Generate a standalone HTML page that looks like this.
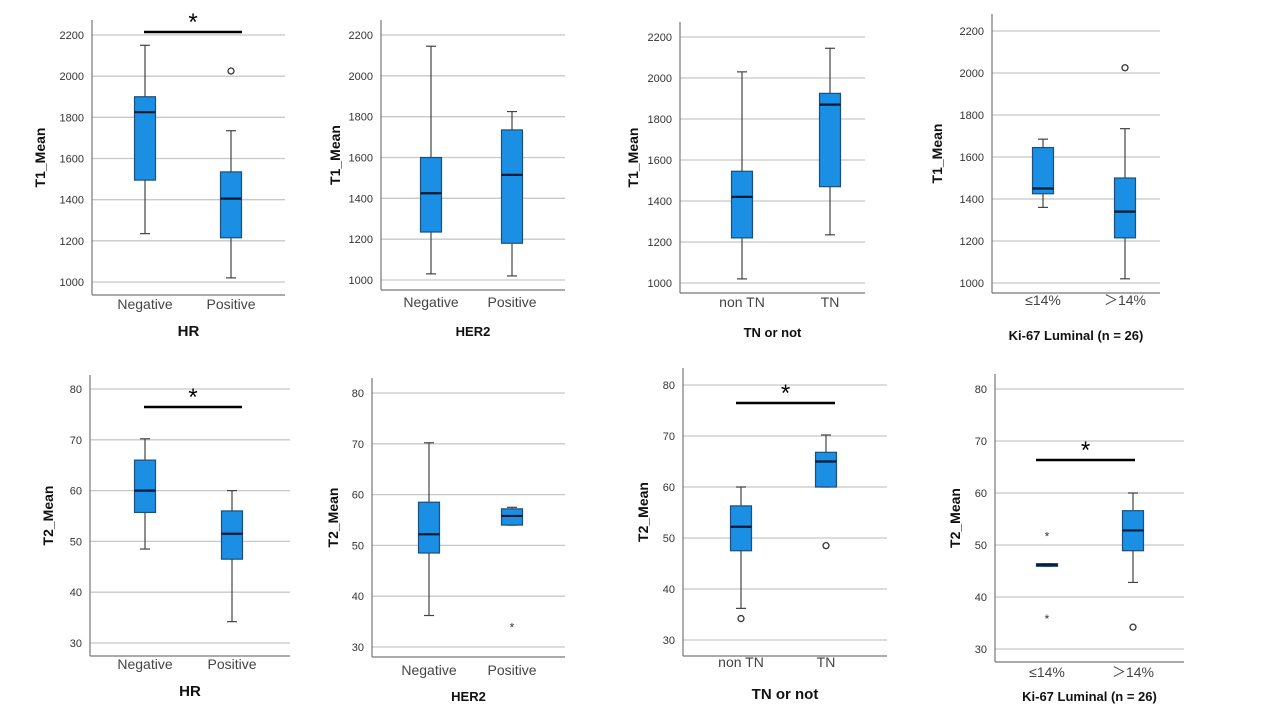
<!DOCTYPE html>
<html><head><meta charset="utf-8">
<style>
body{margin:0;background:#fff;width:1280px;height:720px;overflow:hidden;font-family:"Liberation Sans",Arial,sans-serif}
svg{position:absolute;left:0;top:0}
</style></head>
<body>
<svg id="chart" width="1280" height="720"></svg>
<script>
const panelNames=["t1-hr","t1-her2","t1-tn","t1-ki67","t2-hr","t2-her2","t2-tn","t2-ki67"];
const categories=[["Negative","Positive"],["Negative","Positive"],["non TN","TN"],["≤14%","＞14%"],
 ["Negative","Positive"],["Negative","Positive"],["non TN","TN"],["≤14%","＞14%"]];
const xTitles=["HR","HER2","TN or not","Ki-67 Luminal (n = 26)","HR","HER2","TN or not","Ki-67 Luminal (n = 26)"];
const yTitles=["T1_Mean","T1_Mean","T1_Mean","T1_Mean","T2_Mean","T2_Mean","T2_Mean","T2_Mean"];
const t1Ticks=[1000,1200,1400,1600,1800,2000,2200];
const t2Ticks=[30,40,50,60,70,80];
// [min,q1,median,q3,max] per category
const stats=[
 [[1235,1495,1825,1900,2150],[1020,1215,1405,1535,1735]],
 [[1030,1235,1425,1600,2145],[1020,1180,1515,1735,1825]],
 [[1020,1220,1420,1545,2030],[1235,1470,1870,1925,2145]],
 [[1360,1425,1450,1645,1685],[1020,1215,1340,1500,1735]],
 [[48.5,55.7,60,66,70.2],[34.2,46.5,51.5,56,60]],
 [[36.2,48.5,52.2,58.5,70.2],[54,54,55.8,57.2,57.5]],
 [[36.2,47.5,52.2,56.3,60],[60,60,65,66.8,70.2]],
 [[45.9,45.9,46.2,46.4,46.4],[42.8,48.9,52.8,56.6,60]]
];
const outliers=[[[],[2025]],[[],[]],[[],[]],[[],[2025]],[[],[]],[[],[]],[[34.2],[48.5]],[[],[34.2]]];
const extremes=[[[],[]],[[],[]],[[],[]],[[],[]],[[],[]],[[],[34.2]],[[],[]],[[52,36.2],[]]];
const sigBars=[[144,242],null,null,null,[144,242],null,[736,835],[1036,1135]];
// layout per panel (pixel geometry)
const geo=[
 {ax:92,gr:285,top:20,bot:295,lo:1000,hi:2200,yLo:282,yHi:35,cx:[145,231],lab:309,tit:336,yt:45,big:true},
 {ax:381,gr:565,top:20,bot:290,lo:1000,hi:2200,yLo:280,yHi:35,cx:[431,512],lab:307,tit:336,yt:340,big:false},
 {ax:680,gr:865,top:22,bot:293,lo:1000,hi:2200,yLo:283,yHi:37,cx:[742,830],lab:307,tit:337,yt:638,big:false},
 {ax:992,gr:1160,top:14,bot:293,lo:1000,hi:2200,yLo:283,yHi:31,cx:[1043,1125],lab:305,tit:340,yt:942,big:false},
 {ax:90,gr:290,top:375,bot:656,lo:30,hi:80,yLo:643,yHi:389,cx:[145,232],lab:669,tit:696,yt:53,big:true},
 {ax:372,gr:565,top:378,bot:657,lo:30,hi:80,yLo:647,yHi:393,cx:[429,512],lab:675,tit:701,yt:338,big:false},
 {ax:683,gr:887,top:368,bot:656,lo:30,hi:80,yLo:640,yHi:385,cx:[741,826],lab:667,tit:699,yt:648,big:true},
 {ax:995,gr:1184,top:374,bot:662,lo:30,hi:80,yLo:649,yHi:389,cx:[1047,1133],lab:677,tit:701,yt:960,big:false}
];
const NS="http://www.w3.org/2000/svg";
const svg=document.getElementById('chart');
function mk(tag,attrs,parent,text){const e=document.createElementNS(NS,tag);for(const k in attrs)e.setAttribute(k,attrs[k]);if(text!==undefined)e.textContent=text;parent.appendChild(e);return e;}
panelNames.forEach((pn,i)=>{
 const g=geo[i];
 const y=v=>g.yLo+(v-g.lo)*(g.yHi-g.yLo)/(g.hi-g.lo);
 const grp=mk('g',{},svg);
 
 
 const ticks=i<4?t1Ticks:t2Ticks;
 ticks.forEach(t=>{
  mk('line',{x1:g.ax,x2:g.gr,y1:y(t),y2:y(t),stroke:'#c8c8c8','stroke-width':1.3},grp);
  const tl=mk('text',{x:g.ax-8,y:y(t)+4,'text-anchor':'end','font-size':11,fill:'#333'},grp,t);
  
  
 });
 mk('line',{x1:g.ax,x2:g.ax,y1:g.top,y2:g.bot,stroke:'#777','stroke-width':1.2},grp);
 mk('line',{x1:g.ax,x2:g.gr,y1:g.bot,y2:g.bot,stroke:'#777','stroke-width':1.2},grp);
 const bw=21;
 stats[i].forEach((s,c)=>{
  const cx=g.cx[c];
  const b=mk('g',{},grp);
  
  
  mk('line',{x1:cx,x2:cx,y1:y(s[0]),y2:y(s[4]),stroke:'#444','stroke-width':1.2},b);
  mk('line',{x1:cx-5,x2:cx+5,y1:y(s[0]),y2:y(s[0]),stroke:'#444','stroke-width':1.2},b);
  mk('line',{x1:cx-5,x2:cx+5,y1:y(s[4]),y2:y(s[4]),stroke:'#444','stroke-width':1.2},b);
  mk('rect',{x:cx-bw/2,y:y(s[3]),width:bw,height:Math.max(1.5,y(s[1])-y(s[3])),fill:'#1a8fe3',stroke:'#1d4f7a','stroke-width':1.2},b);
  mk('line',{x1:cx-bw/2,x2:cx+bw/2,y1:y(s[2]),y2:y(s[2]),stroke:'#0a1a30','stroke-width':2.2},b);
  outliers[i][c].forEach(v=>{
   const o=mk('circle',{cx:cx,cy:y(v),r:3,fill:'none',stroke:'#333','stroke-width':1.3},b);
   
   
  });
  extremes[i][c].forEach(v=>{
   const o=mk('text',{x:cx,y:y(v)+6,'text-anchor':'middle','font-size':12,fill:'#333'},b,'*');
   
   
  });
  const cl=mk('text',{x:cx,y:g.lab,'text-anchor':'middle','font-size':14,fill:'#444'},grp,categories[i][c]);
  
  
 });
 const mid=(g.ax+g.gr)/2;
 const xt=mk('text',{x:mid,y:g.tit,'text-anchor':'middle','font-size':g.big?15:13,'font-weight':'bold',fill:'#111'},grp,xTitles[i]);
 
 
 const yc=(g.top+g.bot)/2;
 const yt=mk('text',{x:g.yt,y:yc,'text-anchor':'middle','font-size':14,'font-weight':'bold',fill:'#111',transform:`rotate(-90 ${g.yt} ${yc})`},grp,yTitles[i]);
 
 
 const sb=sigBars[i];
 if(sb){
  const ly=i===0?32:(i===4?407:(i===6?403:460));
  const l=mk('line',{x1:sb[0],x2:sb[1],y1:ly,y2:ly,stroke:'#000','stroke-width':2.5},grp);
  
  
  const st=mk('text',{x:(sb[0]+sb[1])/2,y:ly-2,'text-anchor':'middle','font-size':24,fill:'#000'},grp,'*');
  
  
 }
});
</script>
</body></html>
